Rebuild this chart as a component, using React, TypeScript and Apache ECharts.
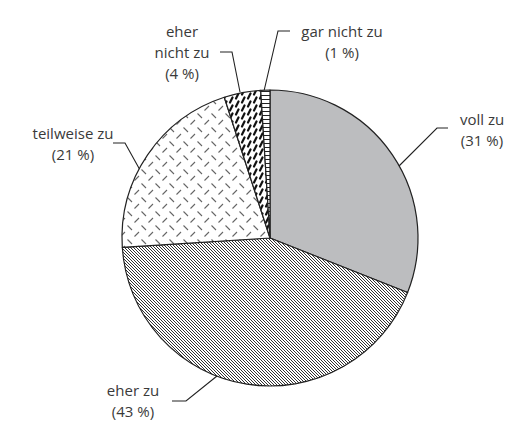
import React, { useEffect, useRef } from 'react';
import * as echarts from 'echarts';

const categories = ['voll zu', 'eher zu', 'teilweise zu', 'eher nicht zu', 'gar nicht zu'];
const values = [31, 43, 21, 4, 1];
const labelTexts = ['voll zu', 'eher zu', 'teilweise zu', 'eher\nnicht zu', 'gar nicht zu'];

// label layout (positions only)
const labelCenters: number[][] = [[482, 129], [133, 400], [73, 143], [182, 52], [342, 41]];
const leaderPoints: number[][][] = [
  [[398, 167], [437, 128], [448, 128]],
  [[217, 376], [186, 401], [172, 401]],
  [[140, 170], [125, 143], [113, 143]],
  [[240, 92], [232, 52], [220, 52]],
  [[264, 91], [278, 31], [290, 31]],
];

function makeTile(w: number, h: number, draw: (c: CanvasRenderingContext2D) => void) {
  const cv = document.createElement('canvas');
  cv.width = w;
  cv.height = h;
  const c = cv.getContext('2d')!;
  c.fillStyle = '#fff';
  c.fillRect(0, 0, w, h);
  draw(c);
  return { image: cv, repeat: 'repeat', imageWidth: w, imageHeight: h } as any;
}

function patterns() {
  const diag = makeTile(3, 3, (c) => {
    c.strokeStyle = '#1a1a1a';
    c.lineWidth = 0.9;
    c.beginPath();
    c.moveTo(-1, -1); c.lineTo(4, 4);
    c.moveTo(-1, 2); c.lineTo(1, 4);
    c.moveTo(2, -1); c.lineTo(4, 1);
    c.stroke();
  });
  const plate = makeTile(14, 14, (c) => {
    c.strokeStyle = '#666';
    c.lineWidth = 1.1;
    c.beginPath();
    c.moveTo(1.5, 1.5); c.lineTo(6, 6);
    c.moveTo(8.5, 12.5); c.lineTo(13, 8);
    c.stroke();
  });
  const dashes = makeTile(12, 8, (c) => {
    c.strokeStyle = '#111';
    c.lineWidth = 2.2;
    c.lineCap = 'round';
    c.beginPath();
    c.moveTo(2, 6.5); c.lineTo(4.5, 1.5);
    c.moveTo(8, 10.5); c.lineTo(10.5, 5.5);
    c.moveTo(8, 2.5); c.lineTo(10.5, -2.5);
    c.stroke();
  });
  const hlines = makeTile(4, 4, (c) => {
    c.fillStyle = '#222';
    c.fillRect(0, 3, 4, 1);
  });
  return ['#bcbdbf', diag, plate, dashes, hlines];
}

export default function App() {
  const ref = useRef<HTMLDivElement>(null);
  useEffect(() => {
    if (!ref.current) return;
    const chart = echarts.init(ref.current, undefined, { renderer: 'svg' });
    const fills = patterns();
    chart.setOption({
      animation: false,
      backgroundColor: '#fff',
      series: [
        {
          type: 'pie',
          center: [270, 238],
          radius: [0, 148],
          startAngle: 90,
          clockwise: true,
          avoidLabelOverlap: false,
          data: categories.map((name, i) => ({
            name,
            value: values[i],
            itemStyle: { color: fills[i] },
          })),
          itemStyle: { borderColor: '#222', borderWidth: 1.2 },
          emphasis: { disabled: true },
          label: {
            show: true,
            position: 'outside',
            fontFamily: 'Open Sans',
            fontWeight: 400,
            fontSize: 15,
            lineHeight: 21,
            color: '#3a3a3a',
            align: 'center',
            formatter: (p: any) => `${labelTexts[p.dataIndex]}\n(${p.value} %)`,
          },
          labelLine: { show: true, lineStyle: { color: '#222', width: 1.1 } },
          labelLayout: (p: any) => ({
            x: labelCenters[p.dataIndex][0],
            y: labelCenters[p.dataIndex][1],
            align: 'center',
            verticalAlign: 'middle',
            labelLinePoints: leaderPoints[p.dataIndex],
          }),
        },
      ],
    });
    return () => chart.dispose();
  }, []);
  return <div ref={ref} style={{ width: 511, height: 421, position: 'absolute', left: 0, top: 0 }} />;
}
